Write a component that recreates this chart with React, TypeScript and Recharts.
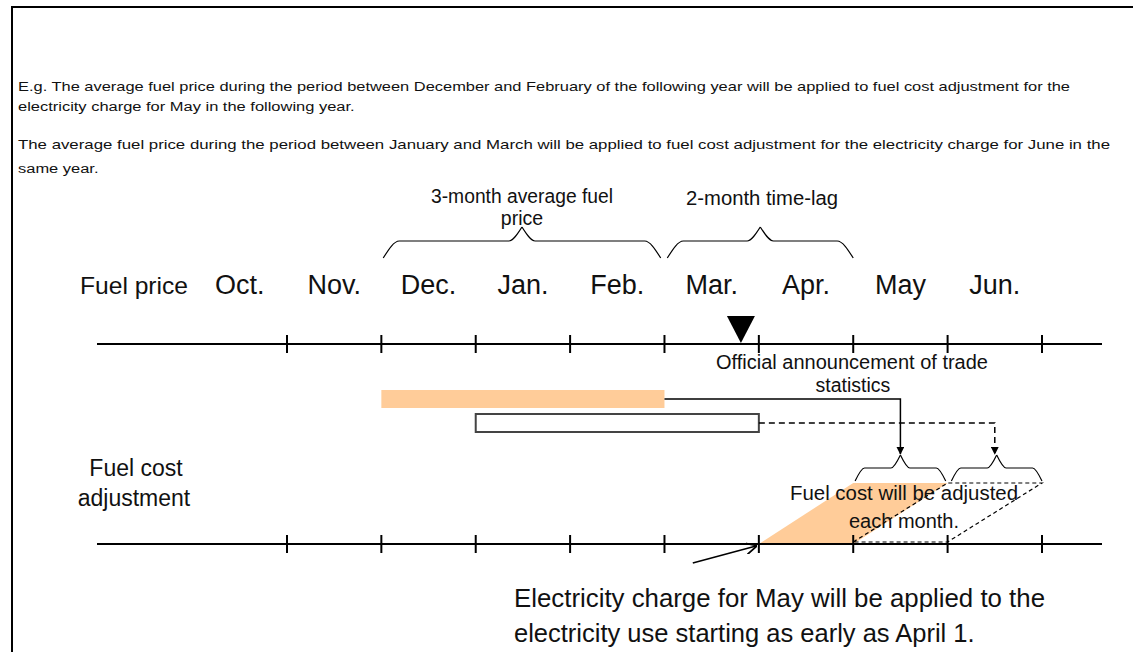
import { ComposedChart, XAxis, YAxis, Line, Area, Scatter, ReferenceLine, ReferenceArea } from "recharts";

// months shown on both time lines (Oct. starts at 0, one unit per month)
const months = ["Oct.", "Nov.", "Dec.", "Jan.", "Feb.", "Mar.", "Apr.", "May", "Jun."];
const monthBoundaries = [1, 2, 3, 4, 5, 6, 7, 8, 9];

// averaging windows of the fuel price
const avgWindowMay = { start: 2, end: 5 }; // Dec. - Feb.
const avgWindowJune = { start: 3, end: 6 }; // Jan. - Mar.
const timeLag = { start: 5, end: 7 };
const announcementAt = 5.81;

// charge months: usage starts at useStart, billed month billStart..billEnd
const mayCharge = { useStart: 6, billStart: 7, billEnd: 8 };
const juneCharge = { useStart: 7, billStart: 8, billEnd: 9 };

const W = 1133;
const H = 652;
const X0 = 192.6;
const MW = 94.375;
const FONT = "'Liberation Sans', Arial, sans-serif";

// y rows (the y axis runs top -> bottom in pixels)
const TOP_AXIS = 344;
const BOT_AXIS = 544;
const AXIS_FROM = -1.013;
const AXIS_TO = 9.636;
const MONTH_Y = 294;

const brace = (a: number, b: number, yEnd: number, yFlat: number, yTip: number, kEnd: number, kTip: number) => {
  const c = (a + b) / 2;
  return [
    [
      { x: a, y: yEnd },
      { x: a + kEnd, y: yFlat },
      { x: c - kTip, y: yFlat },
      { x: c, y: yTip },
    ],
    [
      { x: c, y: yTip },
      { x: c + kTip, y: yFlat },
      { x: b - kEnd, y: yFlat },
      { x: b, y: yEnd },
    ],
  ];
};

const braces = [
  ...brace(avgWindowMay.start + 0.02, avgWindowMay.end - 0.04, 258, 241, 227, 0.17, 0.14),
  ...brace(timeLag.start + 0.03, timeLag.end, 258, 241, 227, 0.17, 0.14),
  ...brace(mayCharge.billStart + 0.02, mayCharge.billEnd - 0.02, 481, 468, 455, 0.1, 0.1),
  ...brace(juneCharge.billStart + 0.04, juneCharge.billEnd, 481, 468, 455, 0.1, 0.1),
];

const mayShape = [
  { x: mayCharge.useStart, r: [BOT_AXIS, BOT_AXIS] },
  { x: mayCharge.billStart, r: [BOT_AXIS, 483] },
  { x: mayCharge.billEnd, r: [483, 483] },
];

const juneOutline = [
  { x: juneCharge.useStart, y: BOT_AXIS - 2 },
  { x: juneCharge.billStart, y: 483 },
  { x: juneCharge.billEnd, y: 483 },
  { x: juneCharge.billStart, y: BOT_AXIS - 2 },
  { x: juneCharge.useStart, y: BOT_AXIS - 2 },
];

const solidArrow = [
  { x: avgWindowMay.end, y: 399 },
  { x: (mayCharge.billStart + mayCharge.billEnd) / 2, y: 399 },
  { x: (mayCharge.billStart + mayCharge.billEnd) / 2, y: 454 },
];

const dashedArrow = [
  { x: avgWindowJune.end, y: 423 },
  { x: (juneCharge.billStart + juneCharge.billEnd) / 2, y: 423 },
  { x: (juneCharge.billStart + juneCharge.billEnd) / 2, y: 454 },
];

const pointerArrow = [
  { x: 5.3, y: 563 },
  { x: mayCharge.useStart - 0.03, y: 546 },
];

const monthLabels = months.map((m, i) => ({ x: i + 0.5, y: MONTH_Y, name: m }));

const Triangle = (p: any) => (
  <path d={`M${p.cx - 14},${p.cy - 14} L${p.cx + 14},${p.cy - 14} L${p.cx},${p.cy + 13} Z`} fill="#000" />
);

const MonthText = (p: any) => (
  <text x={p.cx} y={p.cy} textAnchor="middle" fontSize={27} fontFamily={FONT} fill="#111">
    {p.payload.name}
  </text>
);

export default function App() {
  const t = { fontFamily: FONT, fill: "#111" } as const;
  const fit = { lengthAdjust: "spacingAndGlyphs" } as const;
  return (
    <div style={{ position: "absolute", left: 0, top: 0, width: W, height: H, background: "#fff", overflow: "hidden" }}>
      <svg width={0} height={0} style={{ position: "absolute" }}>
        <defs>
          <marker id="headSolid" viewBox="0 0 10 10" refX="9" refY="5" markerWidth="8" markerHeight="8" markerUnits="userSpaceOnUse" orient="auto">
            <path d="M0,0 L10,5 L0,10 Z" fill="#000" />
          </marker>
          <marker id="headOpen" viewBox="0 0 10 10" refX="9" refY="5" markerWidth="12" markerHeight="12" markerUnits="userSpaceOnUse" orient="auto">
            <path d="M0,0 L10,5 L0,10" fill="none" stroke="#000" strokeWidth={1.5} />
          </marker>
        </defs>
      </svg>
      <ComposedChart width={W} height={H} data={mayShape} margin={{ top: 0, right: 0, bottom: 0, left: 0 }}>
        <XAxis type="number" dataKey="x" domain={[-X0 / MW, (W - X0) / MW]} allowDataOverflow hide />
        <YAxis type="number" domain={[0, H]} reversed allowDataOverflow hide />

        <Area type="linear" dataKey="r" fill="#FFCC99" fillOpacity={1} stroke="none" isAnimationActive={false} />

        <ReferenceArea x1={avgWindowMay.start} x2={avgWindowMay.end} y1={390} y2={408} fill="#FFCC99" fillOpacity={1} stroke="none" />
        <ReferenceArea x1={avgWindowJune.start} x2={avgWindowJune.end} y1={414} y2={432} fill="#fff" fillOpacity={1} stroke="#444" strokeWidth={2} />

        <ReferenceLine segment={[{ x: AXIS_FROM, y: TOP_AXIS }, { x: AXIS_TO, y: TOP_AXIS }]} stroke="#000" strokeWidth={2} />
        <ReferenceLine segment={[{ x: AXIS_FROM, y: BOT_AXIS }, { x: AXIS_TO, y: BOT_AXIS }]} stroke="#000" strokeWidth={2} />
        {monthBoundaries.map((b) => (
          <ReferenceLine key={"t" + b} segment={[{ x: b, y: TOP_AXIS - 9 }, { x: b, y: TOP_AXIS + 9 }]} stroke="#000" strokeWidth={2} />
        ))}
        {monthBoundaries.map((b) => (
          <ReferenceLine key={"b" + b} segment={[{ x: b, y: BOT_AXIS - 9 }, { x: b, y: BOT_AXIS + 9 }]} stroke="#000" strokeWidth={2} />
        ))}

        {braces.map((d, i) => (
          <Line key={"br" + i} data={d} dataKey="y" type="monotone" stroke="#000" strokeWidth={1.2} dot={false} isAnimationActive={false} />
        ))}

        <Line data={juneOutline} dataKey="y" type="linear" stroke="#000" strokeWidth={1.2} strokeDasharray="4 3" dot={false} isAnimationActive={false} />
        <Line data={solidArrow} dataKey="y" type="linear" stroke="#000" strokeWidth={1.5} dot={false} markerEnd="url(#headSolid)" isAnimationActive={false} />
        <Line data={dashedArrow} dataKey="y" type="linear" stroke="#000" strokeWidth={1.5} strokeDasharray="6 4" dot={false} markerEnd="url(#headSolid)" isAnimationActive={false} />
        <Line data={pointerArrow} dataKey="y" type="linear" stroke="#000" strokeWidth={1.5} dot={false} markerEnd="url(#headOpen)" isAnimationActive={false} />

        <Scatter data={[{ x: announcementAt, y: 330 }]} dataKey="y" shape={Triangle} isAnimationActive={false} />
        <Scatter data={monthLabels} dataKey="y" shape={MonthText} isAnimationActive={false} />
      </ComposedChart>

      <svg width={W} height={H} style={{ position: "absolute", left: 0, top: 0, pointerEvents: "none" }}>
        <line x1={12} y1={7} x2={W} y2={7} stroke="#000" strokeWidth={2} />
        <line x1={12} y1={6} x2={12} y2={H} stroke="#000" strokeWidth={2} />

        <g fontSize={13.5} {...t}>
          <text x={18} y={91} textLength={1052} {...fit}>E.g. The average fuel price during the period between December and February of the following year will be applied to fuel cost adjustment for the</text>
          <g transform="translate(18,0) scale(1.22,1)">
            <text x={0} y={111}>electricity charge for May in the following year.</text>
            <text x={0} y={173}>same year.</text>
          </g>
          <text x={18} y={149} textLength={1092} {...fit}>The average fuel price during the period between January and March will be applied to fuel cost adjustment for the electricity charge for June in the</text>
        </g>

        <text x={80} y={294} fontSize={24} textLength={108} {...fit} {...t}>Fuel price</text>
        <text x={136} y={476} fontSize={23} textAnchor="middle" {...t}>Fuel cost</text>
        <text x={134} y={506} fontSize={23} textAnchor="middle" {...t}>adjustment</text>

        <g fontSize={19.5} textAnchor="middle" {...t}>
          <text x={522} y={203} textLength={182} {...fit}>3-month average fuel</text>
          <text x={522} y={225}>price</text>
          <text x={762} y={205} textLength={152} {...fit}>2-month time-lag</text>
          <text x={852} y={369} textLength={272} {...fit}>Official announcement of trade</text>
          <text x={853} y={392}>statistics</text>
        </g>
        <g fontSize={20} textAnchor="middle" {...t}>
          <text x={904} y={500} textLength={228} {...fit}>Fuel cost will be adjusted</text>
          <text x={904} y={528}>each month.</text>
        </g>
        <g fontSize={25.5} {...t}>
          <text x={514} y={607} textLength={531} {...fit}>Electricity charge for May will be applied to the</text>
          <text x={514} y={642}>electricity use starting as early as April 1.</text>
        </g>
      </svg>
    </div>
  );
}
